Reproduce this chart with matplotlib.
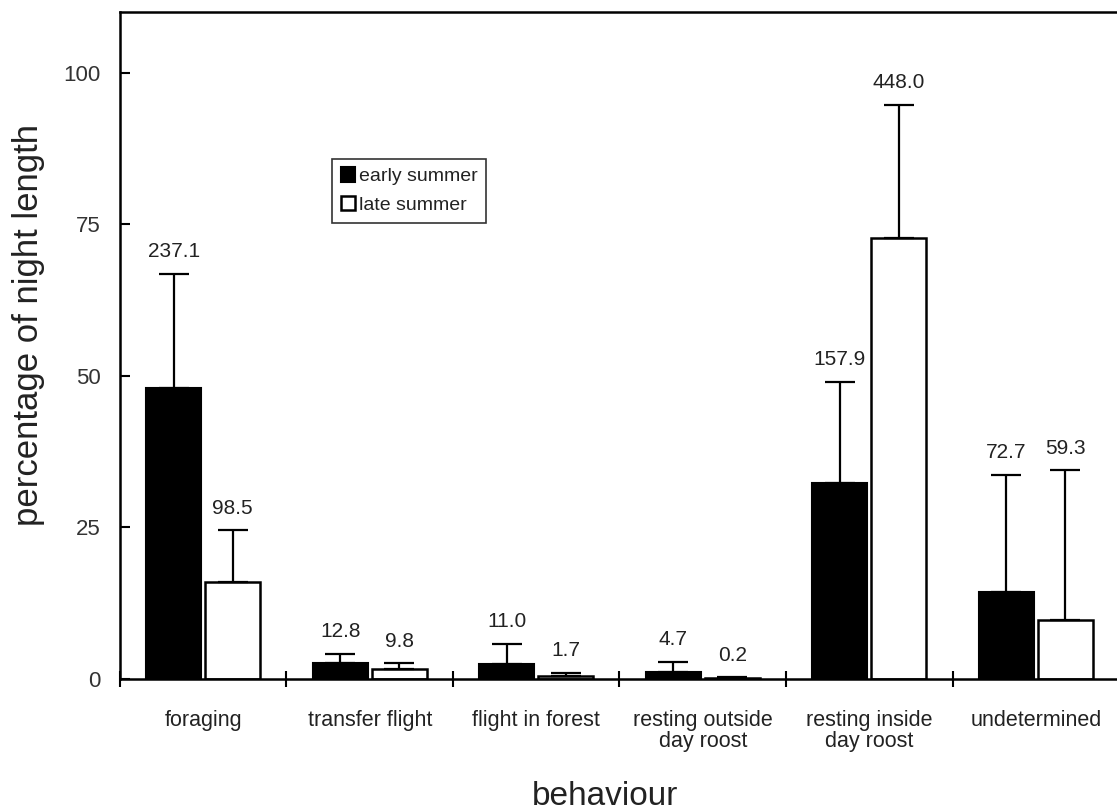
import numpy as np
import matplotlib
matplotlib.use('Agg')
import matplotlib.pyplot as plt

plt.rcParams['font.family'] = ['Liberation Sans', 'DejaVu Sans']

behaviours = ['foraging', 'transfer flight', 'flight in forest',
              'resting outside\nday roost', 'resting inside\nday roost',
              'undetermined']

# mean percentage of night length and upper error (SD)
early = [48.0, 2.7, 2.5, 1.15, 32.3, 14.4]
early_err = [18.8, 1.5, 3.3, 1.65, 16.7, 19.3]
late = [16.0, 1.6, 0.45, 0.1, 72.7, 9.8]
late_err = [8.5, 1.0, 0.55, 0.15, 22.0, 24.6]

# values printed above the error bars
early_lbl = ['237.1', '12.8', '11.0', '4.7', '157.9', '72.7']
late_lbl = ['98.5', '9.8', '1.7', '0.2', '448.0', '59.3']

TXT = '#222222'

fig = plt.figure(figsize=(11.17, 8.11), dpi=100)
ax = fig.add_axes([0.1074, 0.1628, 0.8944, 0.8224])

x = np.arange(len(behaviours))
w = 0.33
off = 0.177
kw = dict(capsize=11, error_kw=dict(elinewidth=1.6, capthick=1.6, ecolor='black'))

b1 = ax.bar(x - off, early, w, color='black', edgecolor='black', linewidth=1.5,
            yerr=[np.zeros(len(x)), early_err], label='early summer', **kw)
b2 = ax.bar(x + off, late, w, color='white', edgecolor='black', linewidth=1.8,
            yerr=[np.zeros(len(x)), late_err], label='late summer', **kw)

for xs, vals, errs, lbls in [(x - off, early, early_err, early_lbl),
                             (x + off, late, late_err, late_lbl)]:
    for xi, v, e, s in zip(xs, vals, errs, lbls):
        ax.annotate(s, (xi, v + e), xytext=(0, 9), textcoords='offset points',
                    ha='center', va='bottom', fontsize=15, color=TXT)

ax.set_xlim(-0.5, 5.5)
ax.set_ylim(0, 110)

ax.set_yticks([0, 25, 50, 75, 100])
ax.tick_params(axis='y', direction='in', length=7, width=1.5, pad=14,
               labelsize=16, labelcolor='#333333')

# boundary ticks between categories, labels at the centres
ax.set_xticks(np.arange(-0.5, 6.0, 1.0))
ax.set_xticklabels([])
ax.tick_params(axis='x', which='major', direction='inout', length=11, width=1.5)
ax.set_xticks(x, minor=True)
ax.set_xticklabels(behaviours, minor=True)
ax.tick_params(axis='x', which='minor', length=0, pad=22, labelsize=15.5,
               labelcolor=TXT)
for t in ax.get_xticklabels(minor=True):
    t.set_linespacing(1.05)

for sp in ['left', 'top', 'bottom']:
    ax.spines[sp].set_linewidth(1.8)
ax.spines['right'].set_visible(False)

ax.set_ylabel('percentage of night length', fontsize=25, color=TXT)
ax.yaxis.set_label_coords(-0.075, 0.53)
ax.set_xlabel('behaviour', fontsize=24, color=TXT)
ax.xaxis.set_label_coords(0.486, -0.153)

leg = ax.legend(loc='upper left', bbox_to_anchor=(0.212, 0.78), fontsize=14,
                frameon=True, fancybox=False, edgecolor='black',
                handlelength=0.75, handleheight=0.75, handletextpad=0.2,
                borderpad=0.45, labelspacing=0.55, borderaxespad=0)
leg.get_frame().set_linewidth(1.2)
for t in leg.get_texts():
    t.set_color(TXT)

fig.savefig('out.png', dpi=100)
